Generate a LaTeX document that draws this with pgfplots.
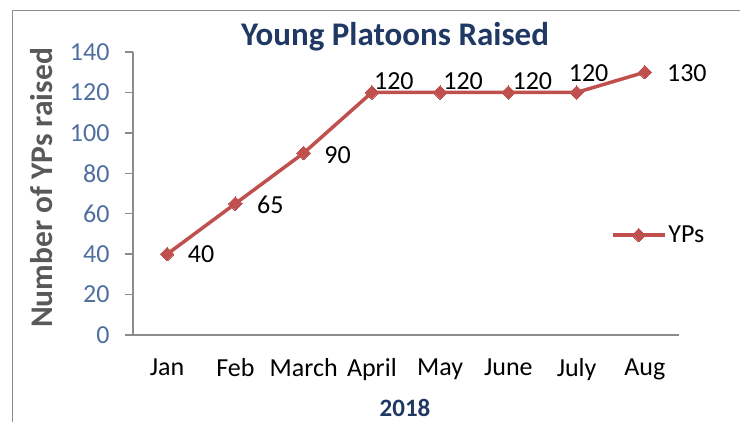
\documentclass[border=0pt]{standalone}
\usepackage{pgfplots}
\pgfplotsset{compat=1.18}
\usepackage{fontspec}
\setmainfont{Carlito}

\definecolor{ypred}{HTML}{C0504D}
\definecolor{titleblue}{HTML}{1F3864}
\definecolor{tickblue}{HTML}{4F6FA0}
\definecolor{axisgray}{HTML}{8C8C8C}
\definecolor{labelgray}{HTML}{595959}

% x = category index, dx/dy = label offset from point (pt)
\pgfplotstableread{
x y dx dy
0 40 34 0
1 65 35 -1
2 90 34 -2
3 120 22 11
4 120 23 11
5 120 24 11
6 120 12 19
7 130 42 -1
}\ypdata

\newcommand{\chartfont}{\fontsize{26}{30}\selectfont}

\begin{document}
\begin{tikzpicture}[x=1pt,y=1pt]
\useasboundingbox (0,0) rectangle (740,422);
% outer frame of the chart
\draw[axisgray, line width=1.5pt] (12.5,-5) -- (12.5,411.5) -- (750,411.5);

\begin{axis}[
    at={(133pt,87pt)}, anchor=south west,
    scale only axis,
    width=546pt, height=283pt,
    xmin=-0.5, xmax=7.5,
    ymin=0, ymax=140,
    axis lines*=left,
    axis line style={axisgray, line width=1.5pt},
    xtick={0,...,7},
    xticklabels={Jan,Feb,March,April,May,June,July,Aug},
    x tick style={draw=none},
    minor xtick={-0.5,0.5,...,7.5},
    ytick={0,20,...,140},
    tick align=outside,
    major tick length=8pt,
    minor tick length=8pt,
    tick style={axisgray, line width=1.5pt},
    xticklabel style={font=\chartfont, text=black, yshift=-12pt},
    yticklabel style={font=\chartfont, text=tickblue, xshift=-12pt},
    /pgf/number format/assume math mode=true,
    clip=false,
    legend style={at={(0.875,0.353)}, anchor=west, draw=none, fill=none,
        inner sep=0pt, font=\chartfont},
    legend image code/.code={
        \draw[#1, mark repeat=2, mark phase=2]
            plot coordinates {(0pt,0pt) (26pt,0pt) (52pt,0pt)};},
]
\addplot[
    color=ypred, line width=3.5pt,
    mark=square*, mark size=4.8pt,
    mark options={rotate=45, line width=0pt, solid},
    point meta=explicit symbolic,
    visualization depends on={\thisrow{dx}\as\dx},
    visualization depends on={\thisrow{dy}\as\dy},
    nodes near coords,
    every node near coord/.append style={anchor=center, inner sep=0pt,
        xshift=\dx pt, yshift=\dy pt, text=black, font=\chartfont},
] table[x=x, y=y, meta=y] {\ypdata};
\addlegendentry{YPs}
\end{axis}

\node[font=\fontsize{33}{38}\selectfont\bfseries, text=titleblue] at (395,385) {Young Platoons Raised};
\node[font=\fontsize{31.5}{36}\selectfont\bfseries, text=labelgray, rotate=90] at (42,234) {Number of YPs raised};
\node[font=\fontsize{25}{30}\selectfont\bfseries, text=titleblue] at (405,14) {2018};
\end{tikzpicture}
\end{document}
